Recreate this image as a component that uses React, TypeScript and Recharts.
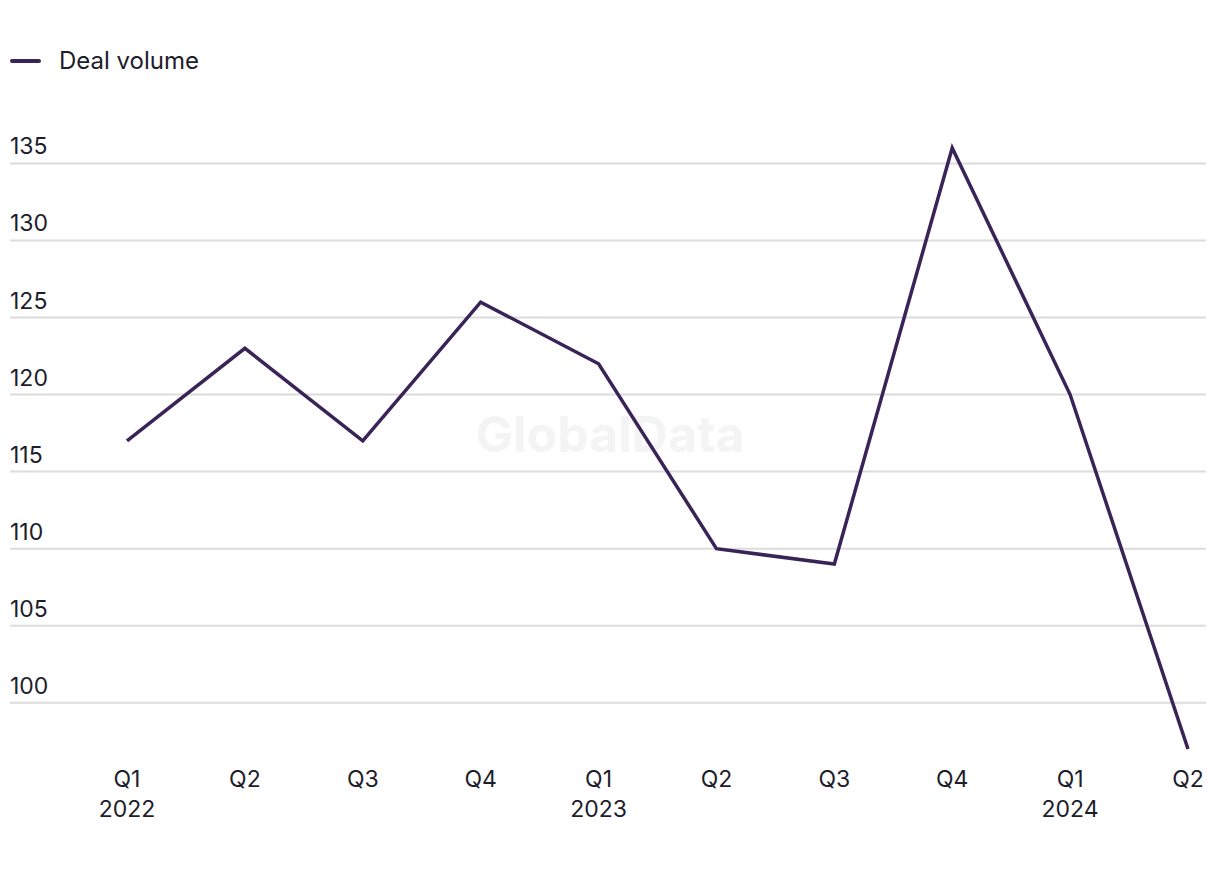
import { LineChart, Line, XAxis, YAxis, CartesianGrid } from 'recharts';

const quarters = ['Q1', 'Q2', 'Q3', 'Q4', 'Q1', 'Q2', 'Q3', 'Q4', 'Q1', 'Q2'];
const years = ['2022', '', '', '', '2023', '', '', '', '2024', ''];
const dealVolume = [117, 123, 117, 126, 122, 110, 109, 136, 120, 97];
const yTicks = [100, 105, 110, 115, 120, 125, 130, 135];

const data = quarters.map((q, i) => ({ key: i, quarter: q, year: years[i], value: dealVolume[i] }));

const FONT = 'Inter, "Liberation Sans", sans-serif';
const TEXT = '#1d1d2c';
const LINE = '#3a2457';

function XTick({ x, y, payload }: any) {
  const d = data[payload.value];
  return (
    <text x={x} textAnchor="middle" fontSize={23} fill={TEXT} fontFamily={FONT}>
      <tspan x={x} y={y + 38}>{d.quarter}</tspan>
      {d.year ? <tspan x={x} y={y + 68}>{d.year}</tspan> : null}
    </text>
  );
}

function YTick({ y, payload }: any) {
  return (
    <text x={10} y={y - 9} textAnchor="start" fontSize={23} fill={TEXT} fontFamily={FONT}>
      {payload.value}
    </text>
  );
}

export default function App() {
  return (
    <div style={{ position: 'absolute', left: 0, top: 0, width: 1220, height: 870, background: '#fff' }}>
      {/* watermark */}
      <div
        style={{
          position: 'absolute',
          left: 0,
          width: 1220,
          top: 404,
          textAlign: 'center',
          fontFamily: FONT,
          fontWeight: 700,
          fontSize: 50,
          color: '#f4f4f4',
        }}
      >
        GlobalData
      </div>
      {/* legend */}
      <div
        style={{
          position: 'absolute',
          left: 10,
          top: 46,
          display: 'flex',
          alignItems: 'center',
          fontFamily: FONT,
          fontSize: 24,
          color: TEXT,
        }}
      >
        <span style={{ display: 'inline-block', width: 31, height: 4, borderRadius: 2, background: LINE, marginRight: 18 }} />
        <span>Deal volume</span>
      </div>
      <div style={{ position: 'absolute', left: 0, top: 0 }}>
        <LineChart width={1220} height={870} data={data} margin={{ top: 148, right: 14, bottom: 0, left: 9 }}>
          <CartesianGrid vertical={false} stroke="#dcdcdc" strokeWidth={2} syncWithTicks />
          <XAxis
            dataKey="key"
            axisLine={false}
            tickLine={false}
            tickSize={0}
            tickMargin={0}
            interval={0}
            height={121}
            padding={{ left: 117, right: 18 }}
            tick={<XTick />}
          />
          <YAxis
            width={1}
            domain={[97, 136]}
            ticks={yTicks}
            interval={0}
            axisLine={false}
            tickLine={false}
            tick={<YTick />}
          />
          <Line
            type="linear"
            dataKey="value"
            stroke={LINE}
            strokeWidth={3.5}
            dot={false}
            activeDot={false}
            isAnimationActive={false}
          />
        </LineChart>
      </div>
    </div>
  );
}
